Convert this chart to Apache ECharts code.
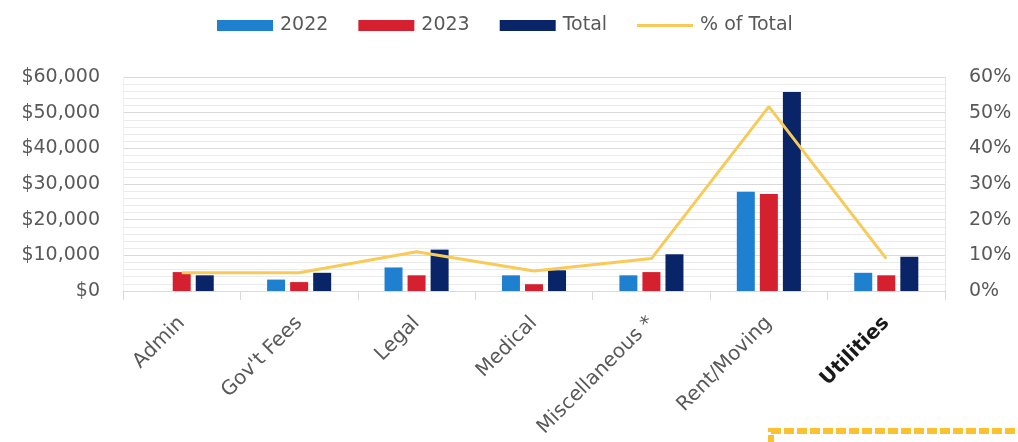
<!DOCTYPE html>
<html>
<head>
<meta charset="utf-8">
<script src="https://cdn.jsdelivr.net/npm/echarts@6/dist/echarts.min.js"></script>
<style>
html,body{margin:0;padding:0;background:#fff;}
#c{width:1018px;height:442px;}
</style>
</head>
<body>
<div id="c"></div>
<script>
const categories = ["Admin", "Gov't Fees", "Legal", "Medical", "Miscellaneous *", "Rent/Moving", "Utilities"];
const values2022 = [0, 3200, 6600, 4400, 4400, 27800, 5100];
const values2023 = [5300, 2500, 4400, 1900, 5300, 27200, 4400];
const valuesTotal = [4400, 5100, 11600, 5800, 10300, 55800, 9600];
const pctOfTotal = [5.1, 5.1, 11.0, 5.6, 9.1, 51.7, 9.1];
const leftTicks = [0, 60000, 10000];   // min, max, interval
const rightTicks = [0, 60, 10];

const FONT = 'DejaVu Sans';
const GREY = '#595959';

const chart = echarts.init(document.getElementById('c'), null, {renderer: 'canvas'});
chart.setOption({
  animation: false,
  textStyle: {fontFamily: FONT},
  legend: {
    top: 11,
    left: 212,
    itemWidth: 56,
    itemHeight: 11,
    itemGap: 30,
    textStyle: {fontFamily: FONT, fontSize: 19, color: GREY, padding: [0, 0, 0, 2]},
    data: [
      {name: '2022', icon: 'rect'},
      {name: '2023', icon: 'rect'},
      {name: 'Total', icon: 'rect'},
      {name: '% of Total', icon: 'path://M0 0H56V3H0Z'}
    ]
  },
  grid: {left: 123, right: 73, top: 77, bottom: 151, containLabel: false},
  xAxis: {
    type: 'category',
    data: categories,
    boundaryGap: true,
    axisLine: {lineStyle: {color: '#d9d9d9', width: 1}},
    axisTick: {show: true, length: 9, lineStyle: {color: '#d9d9d9'}},
    axisLabel: {
      rotate: 45,
      margin: 29,
      fontFamily: FONT,
      fontSize: 20,
      color: GREY,
      interval: 0,
      formatter: function (v) { return v === 'Utilities' ? '{b|' + v + '}' : v; },
      rich: {b: {fontFamily: FONT, fontSize: 20, fontWeight: 'bold', color: '#1a1a1a'}}
    }
  },
  yAxis: [
    {
      type: 'value',
      min: leftTicks[0], max: leftTicks[1], interval: leftTicks[2],
      axisLine: {show: true, lineStyle: {color: '#eeeeee'}},
      axisTick: {show: false},
      axisLabel: {
        margin: 23, fontFamily: FONT, fontSize: 19, color: GREY,
        formatter: function (v) { return '$' + v.toLocaleString('en-US'); }
      },
      splitLine: {lineStyle: {color: '#d9d9d9', width: 1}},
      minorTick: {show: false, splitNumber: 5},
      minorSplitLine: {show: true, lineStyle: {color: '#ebebeb', width: 1}}
    },
    {
      type: 'value',
      min: rightTicks[0], max: rightTicks[1], interval: rightTicks[2],
      axisLine: {show: true, lineStyle: {color: '#e6e6e6'}},
      axisTick: {show: false},
      axisLabel: {
        margin: 24, fontFamily: FONT, fontSize: 19, color: GREY,
        formatter: '{value}%'
      },
      splitLine: {show: false}
    }
  ],
  series: [
    {name: '2022', type: 'bar', data: values2022, barWidth: 18, barGap: '28%',
     itemStyle: {color: '#2080D0'}},
    {name: '2023', type: 'bar', data: values2023, barWidth: 18, barGap: '28%',
     itemStyle: {color: '#D4202F'}},
    {name: 'Total', type: 'bar', data: valuesTotal, barWidth: 18, barGap: '28%',
     itemStyle: {color: '#0A2468'}},
    {name: '% of Total', type: 'line', yAxisIndex: 1, data: pctOfTotal,
     symbol: 'none', showSymbol: false, z: 5,
     lineStyle: {color: '#F8CB58', width: 3},
     itemStyle: {color: '#F8CB58'}}
  ],
  graphic: [
    {type: 'rect', shape: {x: 771, y: 431, width: 260, height: 20},
     style: {fill: '#ffffff', stroke: '#FBC12E', lineWidth: 6, lineDash: [10, 3]}, silent: true}
  ]
});
</script>
</body>
</html>
